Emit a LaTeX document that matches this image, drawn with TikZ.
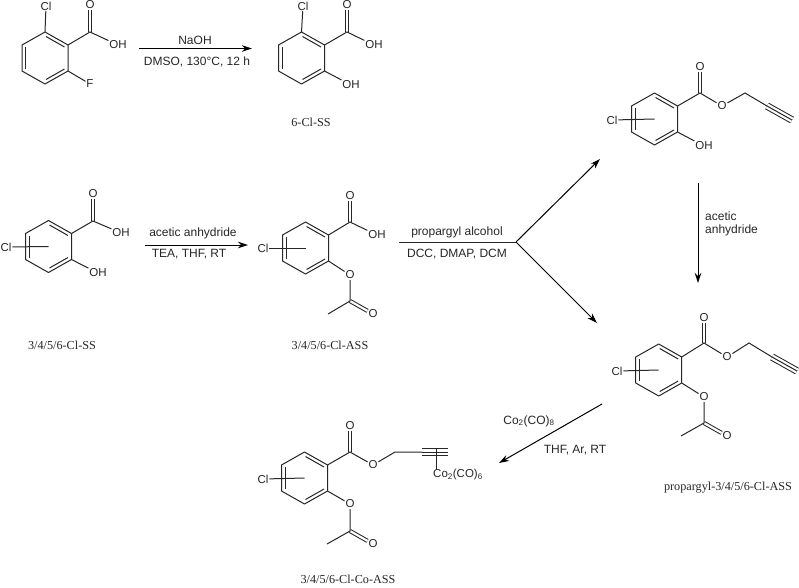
\documentclass[tikz,border=0pt]{standalone}
\usepackage{fontspec}
\setmainfont{Liberation Serif}
\setsansfont{Liberation Sans}
\usetikzlibrary{arrows.meta}
\tikzset{
	bond/.style={line width=1pt,color=black!85},
	dbond/.style={bond,double,double distance=2.2pt},
	tbond/.style={bond,double,double distance=5.4pt},
	rarrow/.style={line width=1pt,-{Stealth[length=10pt,width=6.5pt]}},
	atom/.style={font=\sffamily\fontsize{11.5}{13}\selectfont,inner sep=.8pt,text=black!85},
	reag/.style={font=\sffamily\fontsize{12}{14}\selectfont,inner sep=0pt,text=black!85},
	cpd/.style={font=\fontsize{12.2}{14}\selectfont,inner sep=0pt,text=black!85},
	ring/.pic={
		\coordinate (-c) at (0,0);
		\coordinate (-t) at (0,-26);
		\coordinate (-ur) at (23,-13);
		\coordinate (-lr) at (23,13);
		\coordinate (-b) at (0,26);
		\coordinate (-ll) at (-23,13);
		\coordinate (-ul) at (-23,-13);
		\draw[bond,line join=round] (-t) -- (-ur) -- (-lr) -- (-b) -- (-ll) -- (-ul) -- cycle;
		\draw[bond] (1,-21.5) -- (19.5,-11);
		\draw[bond] (19.5,11) -- (1,21.5);
		\draw[bond] (-19.5,-11) -- (-19.5,11);
	}
}
\begin{document}
\begin{tikzpicture}[x=1pt,y=-1pt]
\useasboundingbox (0,0) rectangle (799,587);

\pic (ra) at (45,58) {ring};
\coordinate (ca) at (90,32);
\node [atom] (aCl) at (46,6) {Cl};
\node [atom] (aO) at (90,5) {O};
\node [atom] (aOH) at (118,45) {OH};
\node [atom] (aF) at (90,84) {F};
\draw [dbond] (ca) -- (aO);
\draw [bond] (ra-t) -- (aCl);
\draw [bond] (ra-ur) -- (ca) -- (aOH);
\draw [bond] (ra-lr) -- (aF);

\coordinate (ab1) at (139,48.5);
\coordinate (ab2) at (252,48.5);
\draw [rarrow] (ab1) -- (ab2);
\node [reag] (naoh) at (195,40) {NaOH};
\node [reag] (dmso) at (197,62) {DMSO, 130°C, 12 h};

\pic (rb) at (301.5,58) {ring};
\coordinate (cb) at (347,32);
\node [atom] (bCl) at (303,6) {Cl};
\node [atom] (bO) at (347,5) {O};
\node [atom] (bOH) at (374,45) {OH};
\node [atom] (bOHb) at (351,85) {OH};
\draw [dbond] (cb) -- (bO);
\draw [bond] (rb-t) -- (bCl);
\draw [bond] (rb-ur) -- (cb) -- (bOH);
\draw [bond] (rb-lr) -- (bOHb);
\node [cpd] (lb) at (311,122) {6-Cl-SS};

\pic (rc) at (48.5,246.5) {ring};
\coordinate (cc) at (93,221);
\node [atom] (cCl) at (6,247) {Cl};
\node [atom] (cO) at (93,194) {O};
\node [atom] (cOH) at (121,233) {OH};
\node [atom] (cOHb) at (98,273) {OH};
\draw [dbond] (cc) -- (cO);
\draw [bond] (cCl) -- (rc-c);
\draw [bond] (rc-ur) -- (cc) -- (cOH);
\draw [bond] (rc-lr) -- (cOHb);
\node [cpd] (lc) at (62,345) {3/4/5/6-Cl-SS};

\coordinate (bc1) at (145,245);
\coordinate (bc2) at (248,245);
\draw [rarrow] (bc1) -- (bc2);
\node [reag] (ac) at (193,233) {acetic anhydride};
\node [reag] (tea) at (189,254) {TEA, THF, RT};

\pic (rd) at (305.5,248) {ring};
\coordinate (cd) at (350,222);
\coordinate (dAc) at (350,301);
\coordinate (dMe) at (328,314);
\node [atom] (dCl) at (263,248) {Cl};
\node [atom] (dO) at (350,196) {O};
\node [atom] (dOH) at (377,235) {OH};
\node [atom] (dOe) at (350,275) {O};
\node [atom] (dOa) at (373,314) {O};
\draw [dbond] (cd) -- (dO);
\draw [dbond] (dAc) -- (dOa);
\draw [bond] (dCl) -- (rd-c);
\draw [bond] (rd-ur) -- (cd) -- (dOH);
\draw [bond] (rd-lr) -- (dOe) -- (dAc) -- (dMe);
\node [cpd] (ld) at (330,345) {3/4/5/6-Cl-ASS};

\coordinate (s1) at (399,242);
\coordinate (s2) at (516,242);
\coordinate (s3) at (600,159);
\coordinate (s4) at (597,323);
\draw [bond] (s1) -- (s2);
\draw [rarrow] (s2) -- (s3);
\draw [rarrow] (s2) -- (s4);
\node [reag] (pa) at (457,232) {propargyl alcohol};
\node [reag] (dcc) at (457,254) {DCC, DMAP, DCM};

\pic (re) at (654.5,119) {ring};
\coordinate (ce) at (700,93);
\coordinate (eCh) at (745,93);
\coordinate (eT1) at (767,106);
\coordinate (eT2) at (792,120);
\node [atom] (eCl) at (612,120) {Cl};
\node [atom] (eO) at (700,67) {O};
\node [atom] (eOe) at (722,106) {O};
\node [atom] (eOH) at (704,146) {OH};
\draw [dbond] (ce) -- (eO);
\draw [tbond] (eT1) -- (eT2);
\draw [bond] (eT1) -- (eT2);
\draw [bond] (eCl) -- (re-c);
\draw [bond] (re-ur) -- (ce) -- (eOe) -- (eCh) -- (eT1);
\draw [bond] (re-lr) -- (eOH);

\coordinate (e1) at (698,183);
\coordinate (e2) at (698,283);
\draw [rarrow] (e1) -- (e2);
\node [reag,anchor=west] (ea) at (705,216) {acetic};
\node [reag,anchor=west] (eb) at (705,230) {anhydride};

\pic (rf) at (658.7,370) {ring};
\coordinate (cf) at (704,343);
\coordinate (fCh) at (749,343);
\coordinate (fT1) at (772,357);
\coordinate (fT2) at (797,371);
\coordinate (fAc) at (704,423);
\coordinate (fMe) at (681,436);
\node [atom] (fCl) at (617,371) {Cl};
\node [atom] (fO) at (704,318) {O};
\node [atom] (fOe) at (727,357) {O};
\node [atom] (fOb) at (704,397) {O};
\node [atom] (fOa) at (727,436) {O};
\draw [dbond] (cf) -- (fO);
\draw [dbond] (fAc) -- (fOa);
\draw [tbond] (fT1) -- (fT2);
\draw [bond] (fT1) -- (fT2);
\draw [bond] (fCl) -- (rf-c);
\draw [bond] (rf-ur) -- (cf) -- (fOe) -- (fCh) -- (fT1);
\draw [bond] (rf-lr) -- (fOb) -- (fAc) -- (fMe);
\node [cpd] (lf) at (728,488) {propargyl-3/4/5/6-Cl-ASS};

\coordinate (g1) at (602,404);
\coordinate (g2) at (499,463);
\draw [rarrow] (g1) -- (g2);
\node [reag] (coa) at (529,421) {Co\textsubscript{2}(CO)\textsubscript{8}};
\node [reag] (thf) at (575,450) {THF, Ar, RT};

\pic (rg) at (304.5,478) {ring};
\coordinate (cg) at (350,452);
\coordinate (gCh) at (395,452);
\coordinate (gT1) at (422,452);
\coordinate (gT2) at (448,452);
\coordinate (gV) at (436,448);
\coordinate (gAc) at (350,531);
\coordinate (gMe) at (327,544);
\node [atom] (gCl) at (263,479) {Cl};
\node [atom] (gO) at (350,426) {O};
\node [atom] (gOe) at (373,465) {O};
\node [atom] (gOb) at (350,504) {O};
\node [atom] (gOa) at (373,544) {O};
\node [atom] (gCo) at (458,475) {Co\textsubscript{2}(CO)\textsubscript{6}};
\coordinate (gVb) at (436,469);
\draw [dbond] (cg) -- (gO);
\draw [dbond] (gAc) -- (gOa);
\draw [tbond] (gT1) -- (gT2);
\draw [bond] (gT1) -- (gT2);
\draw [bond] (gV) -- (gVb);
\draw [bond] (gCl) -- (rg-c);
\draw [bond] (rg-ur) -- (cg) -- (gOe) -- (gCh) -- (gT1);
\draw [bond] (rg-lr) -- (gOb) -- (gAc) -- (gMe);
\node [cpd] (lg) at (348,579) {3/4/5/6-Cl-Co-ASS};
\end{tikzpicture}
\end{document}
